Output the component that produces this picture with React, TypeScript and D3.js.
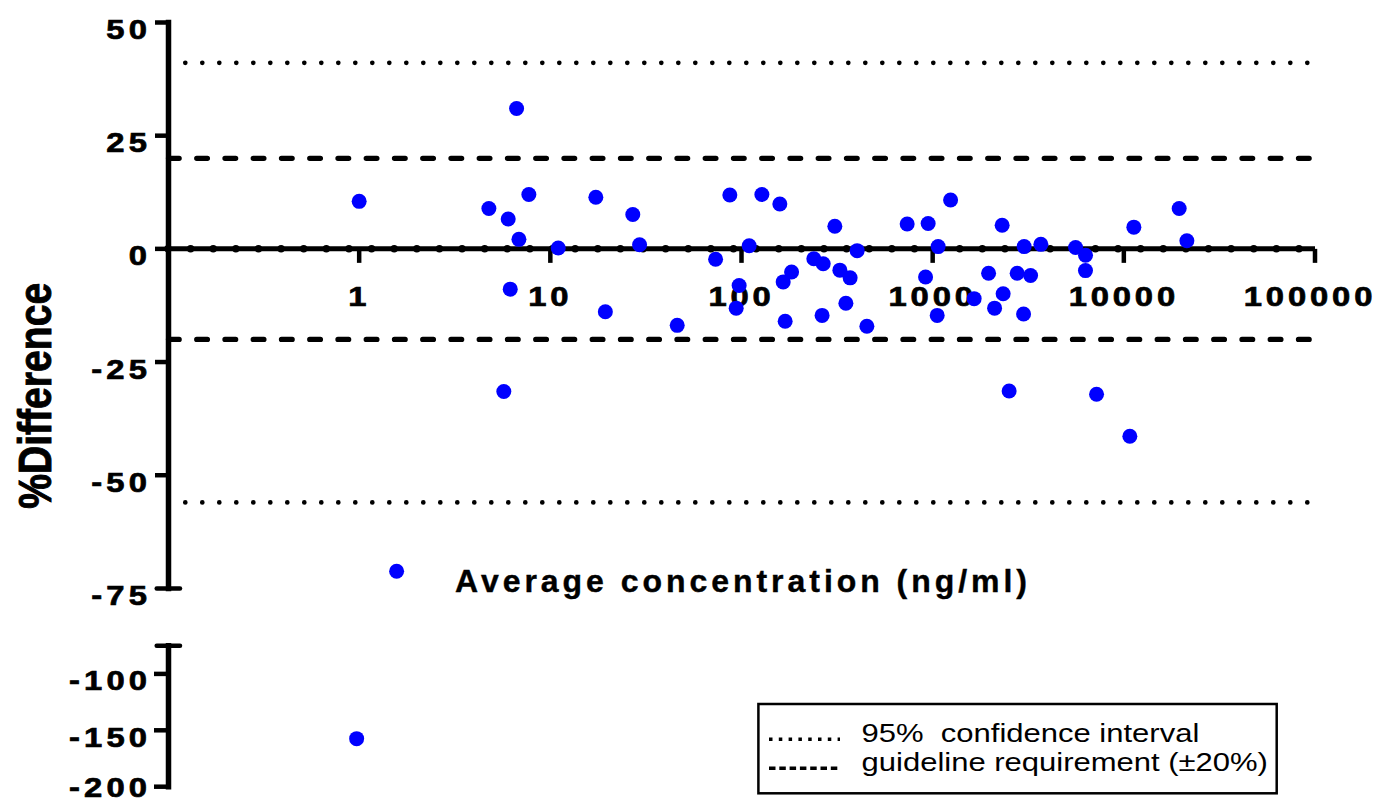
import React, { useEffect, useRef } from 'react';
import * as d3 from 'd3';

// Average concentration (ng/ml) and % difference for each sample
const avgConc = [
  1.0, 6.66, 4.77, 6.02, 7.72, 6.85, 11.0, 17.3, 27.0, 29.3, 6.17, 19.4, 5.71,
  86.9, 127.8, 158.7, 307.8, 109.7, 402.7, 73.2, 239, 267.5, 182.8, 165.2, 327, 370,
  97.2, 93.8, 351.6, 169.2, 264, 46.1, 452.7,
  1241, 735.5, 947, 2309, 1068, 3010, 3681, 5592, 6306, 6300, 918, 1961, 2767, 3252,
  2337, 1648, 2108, 1056, 2989, 2512, 7199,
  11283, 19474, 21367, 10752, 1.57, 0.97,
];
const pctDiff = [
  10.5, 31.0, 8.9, 6.6, 12.0, 2.1, 0.2, 11.4, 7.6, 0.9, -8.9, -13.9, -31.5,
  11.9, 12.0, 9.9, 5.0, 0.7, -0.4, -2.3, -2.2, -3.3, -5.1, -7.3, -4.7, -6.4,
  -8.1, -13.1, -12.0, -16.0, -14.7, -16.9, -17.1,
  10.8, 5.5, 5.6, 5.2, 0.5, 0.5, 1.0, 0.3, -1.4, -4.8, -6.2, -5.4, -5.4, -5.9,
  -9.9, -11.0, -13.1, -14.7, -14.4, -31.4, -32.1,
  4.8, 8.9, 1.8, -41.4, -71.2, -157.4,
];

const xTicks = [1, 10, 100, 1000, 10000, 100000];
const upperTicks = [50, 25, 0, -25, -50];
const lowerTicks = [-100, -150, -200];
const breakValue = -75;
const ciLimits = [41.1, -56.0];
const guideLimits = [20, -20];
const legendLabels = ['95%  confidence interval', 'guideline requirement (\u00b120%)'];

const App: React.FC = () => {
  const svgRef = useRef<SVGSVGElement>(null);

  useEffect(() => {
    if (!svgRef.current) return;
    const svg = d3.select(svgRef.current);
    svg.selectAll('*').remove();

    const font = '"Liberation Sans", Arial, sans-serif';
    const stretch = 1.17; // the original text is a bit wide
    const axisX = 168.5;

    const x = d3.scaleLog().domain([0.1, 100000]).range([168, 1315]);
    const yTop = d3.scaleLinear().domain([-75, 50]).range([588.4, 22.5]);
    const yBot = d3.scaleLinear().domain([-200, -75]).range([786.7, 645.7]);
    const y0 = yTop(0);

    // 95% CI (dotted)
    svg.selectAll('.ci')
      .data(ciLimits)
      .enter()
      .append('line')
      .attr('x1', 185.3)
      .attr('x2', 1308)
      .attr('y1', d => yTop(d))
      .attr('y2', d => yTop(d))
      .attr('stroke', '#000')
      .attr('stroke-width', 4.7)
      .attr('stroke-linecap', 'round')
      .attr('stroke-dasharray', '0 17');

    // guideline +-20% (dashed)
    svg.selectAll('.guide')
      .data(guideLimits)
      .enter()
      .append('line')
      .attr('x1', 168.5)
      .attr('x2', 1312)
      .attr('y1', d => yTop(d))
      .attr('y2', d => yTop(d))
      .attr('stroke', '#000')
      .attr('stroke-width', 5.3)
      .attr('stroke-linecap', 'round')
      .attr('stroke-dasharray', '10.65 17.6');

    // x axis along zero, with the dotted bumps
    svg.append('line')
      .attr('x1', x(0.1)).attr('x2', x(100000))
      .attr('y1', y0).attr('y2', y0)
      .attr('stroke', '#000')
      .attr('stroke-width', 7.5)
      .attr('stroke-linecap', 'round')
      .attr('stroke-dasharray', '0 22.62');
    svg.append('line')
      .attr('x1', x(0.1)).attr('x2', x(100000))
      .attr('y1', y0).attr('y2', y0)
      .attr('stroke', '#000')
      .attr('stroke-width', 5);

    svg.selectAll('.xtick')
      .data(xTicks)
      .enter()
      .append('line')
      .attr('x1', d => x(d)).attr('x2', d => x(d))
      .attr('y1', y0).attr('y2', y0 + 14)
      .attr('stroke', '#000')
      .attr('stroke-width', 4.5);

    const label = (sel: any, size: number, weight: string, heavy = 0) =>
      sel.attr('font-family', font)
        .attr('font-size', size)
        .attr('font-weight', weight)
        .attr('fill', '#000')
        .attr('stroke', heavy ? '#000' : 'none')
        .attr('stroke-width', heavy);

    svg.selectAll('.xlabel')
      .data(xTicks)
      .enter()
      .append('text')
      .attr('transform', d => `translate(${Math.min(x(d), 1310)},306) scale(${stretch},1)`)
      .attr('text-anchor', 'middle')
      .attr('letter-spacing', 3.3)
      .call(label, 28, 'bold', 0.7)
      .text(d => String(d));

    // y axis, upper part
    svg.append('line')
      .attr('x1', axisX).attr('x2', axisX)
      .attr('y1', yTop(50)).attr('y2', yTop(breakValue))
      .attr('stroke', '#000')
      .attr('stroke-width', 5.5)
      .attr('stroke-linecap', 'square');
    // y axis, lower part
    svg.append('line')
      .attr('x1', axisX).attr('x2', axisX)
      .attr('y1', yBot(breakValue)).attr('y2', yBot(-200))
      .attr('stroke', '#000')
      .attr('stroke-width', 5.5)
      .attr('stroke-linecap', 'square');

    svg.selectAll('.ytickTop')
      .data(upperTicks)
      .enter()
      .append('line')
      .attr('x1', 155).attr('x2', axisX)
      .attr('y1', d => yTop(d)).attr('y2', d => yTop(d))
      .attr('stroke', '#000')
      .attr('stroke-width', 4.5);
    svg.selectAll('.ytickBot')
      .data(lowerTicks)
      .enter()
      .append('line')
      .attr('x1', 154).attr('x2', axisX)
      .attr('y1', d => yBot(d)).attr('y2', d => yBot(d))
      .attr('stroke', '#000')
      .attr('stroke-width', 4.5);
    // break caps
    svg.selectAll('.ybreak')
      .data([yTop(breakValue), yBot(breakValue)])
      .enter()
      .append('line')
      .attr('x1', 156.7).attr('x2', 180)
      .attr('y1', d => d).attr('y2', d => d)
      .attr('stroke', '#000')
      .attr('stroke-width', 4.5)
      .attr('stroke-linecap', 'round');

    const yLabels = [
      ...upperTicks.concat([breakValue]).map(v => ({ v, py: yTop(v) })),
      ...lowerTicks.map(v => ({ v, py: yBot(v) })),
    ];
    svg.selectAll('.ylabel')
      .data(yLabels)
      .enter()
      .append('text')
      .attr('transform', d => `translate(151,${Math.min(d.py + 16.5, 797)}) scale(${stretch},1)`)
      .attr('text-anchor', 'end')
      .attr('letter-spacing', 3.5)
      .call(label, 28, 'bold', 0.7)
      .text(d => String(d.v));

    // axis titles
    svg.append('text')
      .attr('x', 455)
      .attr('y', 591.7)
      .attr('textLength', 572)
      .attr('lengthAdjust', 'spacing')
      .call(label, 32, 'bold', 0.4)
      .text('Average concentration (ng/ml)');

    svg.append('text')
      .attr('transform', `translate(50.5,395.8) scale(${stretch},1) rotate(-90)`)
      .attr('text-anchor', 'middle')
      .attr('textLength', 226)
      .attr('lengthAdjust', 'spacingAndGlyphs')
      .call(label, 40, 'bold', 0.8)
      .text('%Difference');

    // points
    svg.selectAll('.pt')
      .data(avgConc.map((c, i) => ({ c, d: pctDiff[i] })))
      .enter()
      .append('circle')
      .attr('cx', d => x(d.c))
      .attr('cy', d => (d.d >= breakValue ? yTop(d.d) : yBot(d.d)))
      .attr('r', 7.5)
      .attr('fill', '#0000ff');

    // legend
    const lg = svg.append('g');
    lg.append('rect')
      .attr('x', 758.4).attr('y', 704)
      .attr('width', 518.3).attr('height', 89.3)
      .attr('fill', 'none')
      .attr('stroke', '#000')
      .attr('stroke-width', 2.5);
    const rowY = [739.3, 768.3];
    lg.append('line')
      .attr('x1', 769).attr('x2', 840)
      .attr('y1', rowY[0]).attr('y2', rowY[0])
      .attr('stroke', '#000').attr('stroke-width', 3.5)
      .attr('stroke-dasharray', '3.5 6.3');
    lg.append('line')
      .attr('x1', 769).attr('x2', 840)
      .attr('y1', rowY[1]).attr('y2', rowY[1])
      .attr('stroke', '#000').attr('stroke-width', 3.5)
      .attr('stroke-dasharray', '6.5 3.8');
    lg.selectAll('.lgtext')
      .data(legendLabels)
      .enter()
      .append('text')
      .attr('transform', (d, i) => `translate(861.6,${rowY[i] + 2.4}) scale(${stretch},1)`)
      .style('white-space', 'pre')
      .call(label, 26.5, 'normal')
      .text(d => d);
  }, []);

  return (
    <svg
      ref={svgRef}
      width={1380}
      height={803}
      style={{ position: 'absolute', left: 0, top: 0, background: '#fff' }}
    />
  );
};

export default App;
